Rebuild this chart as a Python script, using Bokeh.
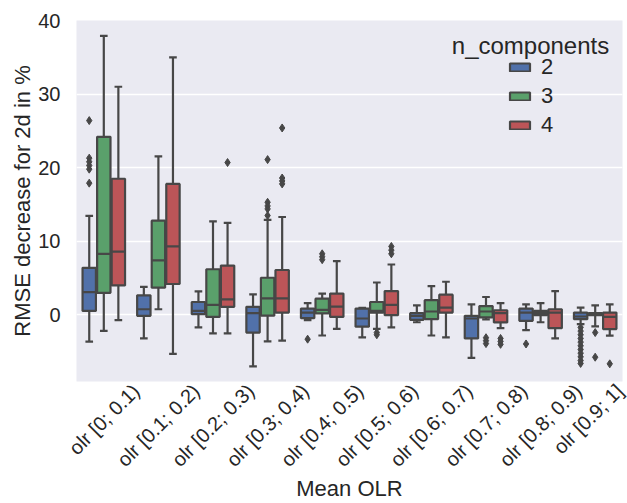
import math
from bokeh.plotting import figure
from bokeh.models import (ColumnDataSource, Range1d, Legend, LegendItem, Label, FixedTicker)
from bokeh.transform import dodge
from bokeh.embed import file_html
from bokeh.resources import INLINE

cats = ["olr [0; 0.1)", "olr [0.1; 0.2)", "olr [0.2; 0.3)", "olr [0.3; 0.4)", "olr [0.4; 0.5)",
        "olr [0.5; 0.6)", "olr [0.6; 0.7)", "olr [0.7; 0.8)", "olr [0.8; 0.9)", "olr [0.9; 1]"]
hues = ["2", "3", "4"]

# n_components = 2
hi_2 = [13.45, 3.8, 3.2, 2.8, 1.6, 0.95, 1.3, 1.44, 1.44, 1.0]
q3_2 = [6.4, 2.66, 1.75, 1.1, 0.86, 0.86, 0.23, -0.13, 0.86, 0.32]
med_2 = [3.1, 0.77, 0.54, 0.23, 0.32, -0.49, -0.13, -0.49, 0.32, -0.22]
q1_2 = [0.54, -0.13, 0.1, -2.4, -0.45, -1.6, -0.67, -3.2, -0.8, -0.58]
lo_2 = [-3.64, -3.2, -1.7, -7.0, -0.7, -3.05, -1.0, -5.84, -2.06, -1.25]
out_x_2 = ["olr [0; 0.1)"] * 6 + ["olr [0.4; 0.5)", "olr [0.8; 0.9)"] + ["olr [0.9; 1]"] * 11
out_y_2 = [26.4, 21.3, 20.8, 20.3, 19.8, 17.9, -3.3, -3.95,
           -1.7, -2.2, -2.7, -3.2, -3.7, -4.2, -4.7, -5.2, -5.7, -6.2, -6.6]

# n_components = 3
hi_3 = [37.9, 21.55, 12.7, 12.9, 2.9, 4.4, 3.9, 2.43, 1.6, 1.3]
q3_3 = [24.2, 12.8, 6.2, 5.05, 2.2, 1.75, 2.0, 1.2, 0.54, 0.23]
med_3 = [8.3, 7.4, 1.35, 2.25, 0.67, 0.54, 0.46, 0.46, 0.23, 0.1]
q1_3 = [3.0, 3.7, -0.27, -0.1, 0.2, 0.32, -0.58, -0.35, -0.04, -0.04]
lo_3 = [-2.16, 0.77, -2.5, -3.6, -2.8, -1.9, -2.8, -0.6, -1.0, -1.57]
out_x_3 = (["olr [0.3; 0.4)"] * 5 + ["olr [0.4; 0.5)"] * 3 + ["olr [0.5; 0.6)"] * 2
           + ["olr [0.7; 0.8)"] * 3 + ["olr [0.9; 1]"] * 2)
out_y_3 = [21.1, 15.3, 14.8, 14.4, 13.5, 8.3, 7.9, 7.5, -2.4, -2.7, -3.1, -3.5, -3.9, -2.4, -5.75]

# n_components = 4
hi_4 = [31.0, 35.0, 12.5, 13.3, 7.3, 6.85, 4.5, 1.6, 3.24, 1.44]
q3_4 = [18.5, 17.8, 6.7, 6.1, 2.9, 3.24, 2.75, 0.63, 0.77, 0.32]
med_4 = [8.6, 9.3, 2.1, 2.25, 1.13, 1.35, 1.0, 0.23, 0.32, -0.27]
q1_4 = [4.0, 4.2, 1.1, 0.32, -0.27, -0.04, 0.32, -1.03, -1.8, -1.93]
lo_4 = [-0.7, -5.3, -2.5, -3.5, -1.9, -1.7, -3.05, -1.8, -3.2, -2.83]
out_x_4 = (["olr [0.2; 0.3)"] + ["olr [0.3; 0.4)"] * 4 + ["olr [0.5; 0.6)"] * 3
           + ["olr [0.7; 0.8)"] * 3 + ["olr [0.9; 1]"])
out_y_4 = [20.7, 25.4, 18.6, 18.2, 17.8, 9.3, 8.8, 8.3, -3.2, -3.6, -4.0, -6.65]

y_ticks = [0, 10, 20, 30, 40]

colors = ["#5171AA", "#5AA06B", "#BC5558"]
line_col = "#474747"
text_col = "#262626"
FONT = "Liberation Sans"

n = len(cats)
pos = {c: i + 0.5 for i, c in enumerate(cats)}   # centre of each category slot
Y_MIN = -9.05

p = figure(width=627, height=503,
           x_range=Range1d(0, n), y_range=Range1d(Y_MIN, 40),
           output_backend="svg", toolbar_location=None,
           min_border_left=76, min_border_right=5, min_border_top=20, min_border_bottom=120)
p.background_fill_color = "#EAEAF2"
p.border_fill_color = "white"
p.outline_line_color = None
p.xgrid.grid_line_color = None
p.ygrid.grid_line_color = "white"
p.ygrid.grid_line_width = 1.5
p.yaxis.ticker = y_ticks

# Bokeh right-aligns rotated tick labels at the tick; matplotlib centres them.
# Move each label's anchor right by half of its (estimated) horizontal extent.
PX_PER_UNIT = 54.6
lab_ticks = {c: round(min(pos[c] + 0.354 * 20 * 0.38 * len(c) / PX_PER_UNIT, n), 3) for c in cats}
p.xaxis.ticker = FixedTicker(ticks=[lab_ticks[c] for c in cats])
p.xaxis.major_label_overrides = {lab_ticks[c]: c for c in cats}
p.xaxis.major_label_orientation = math.pi / 4

for ax in (p.xaxis[0], p.yaxis[0]):
    ax.axis_line_color = None
    ax.major_tick_line_color = None
    ax.minor_tick_line_color = None
    ax.major_label_text_font = FONT
    ax.major_label_text_color = text_col
    ax.major_label_text_font_size = "20px"
    ax.axis_label_text_font = FONT
    ax.axis_label_text_color = text_col
    ax.axis_label_text_font_style = "normal"
    ax.axis_label_text_font_size = "22px"
p.xaxis.axis_label = "Mean OLR"
p.xaxis.major_label_standoff = 0
p.xaxis.axis_label_standoff = -6
p.yaxis.axis_label = "RMSE decrease for 2d in %"
p.yaxis.major_label_standoff = 10
p.yaxis.axis_label_standoff = 0

offsets = [-0.2667, 0.0, 0.2667]
bw = 0.245
cw = 0.07
series = [
    (hi_2, q3_2, med_2, q1_2, lo_2, out_x_2, out_y_2),
    (hi_3, q3_3, med_3, q1_3, lo_3, out_x_3, out_y_3),
    (hi_4, q3_4, med_4, q1_4, lo_4, out_x_4, out_y_4),
]
box_renderers = []
for i, (hi, q3, med, q1, lo, ox, oy) in enumerate(series):
    off = offsets[i]
    src = ColumnDataSource(dict(x=[pos[c] for c in cats], cat=cats,
                                hi=hi, q3=q3, med=med, q1=q1, lo=lo))
    p.segment(x0=dodge("x", off), x1=dodge("x", off), y0="q3", y1="hi",
              source=src, line_color=line_col, line_width=2.2)
    p.segment(x0=dodge("x", off), x1=dodge("x", off), y0="q1", y1="lo",
              source=src, line_color=line_col, line_width=2.2)
    p.segment(x0=dodge("x", off - cw), x1=dodge("x", off + cw), y0="hi", y1="hi",
              source=src, line_color=line_col, line_width=2.2)
    p.segment(x0=dodge("x", off - cw), x1=dodge("x", off + cw), y0="lo", y1="lo",
              source=src, line_color=line_col, line_width=2.2)
    r = p.vbar(x=dodge("x", off), width=bw, top="q3", bottom="q1", source=src,
               fill_color=colors[i], line_color=line_col, line_width=2.2)
    box_renderers.append(r)
    p.segment(x0=dodge("x", off - bw / 2), x1=dodge("x", off + bw / 2),
              y0="med", y1="med", source=src, line_color=line_col, line_width=2.2)
    osrc = ColumnDataSource(dict(x=[pos[c] for c in ox], cat=ox, y=oy))
    p.scatter(x=dodge("x", off), y="y", source=osrc, marker="diamond", size=8,
              fill_color=line_col, line_color=line_col)

legend = Legend(items=[LegendItem(label=h, renderers=[r]) for h, r in zip(hues, box_renderers)],
                location=(431, 243), orientation="vertical")
legend.background_fill_alpha = 0
legend.border_line_alpha = 0
legend.label_text_font = FONT
legend.label_text_font_size = "22px"
legend.label_text_color = text_col
legend.glyph_width = 25
legend.glyph_height = 10
legend.spacing = 3
legend.padding = 0
legend.margin = 0
legend.label_standoff = 9
p.add_layout(legend)

p.add_layout(Label(x=8.315, y=36.67, text="n_components", text_align="center", text_baseline="middle",
                   text_font=FONT, text_font_size="24px", text_color=text_col))

open("out.html", "w").write(file_html(p, INLINE))
